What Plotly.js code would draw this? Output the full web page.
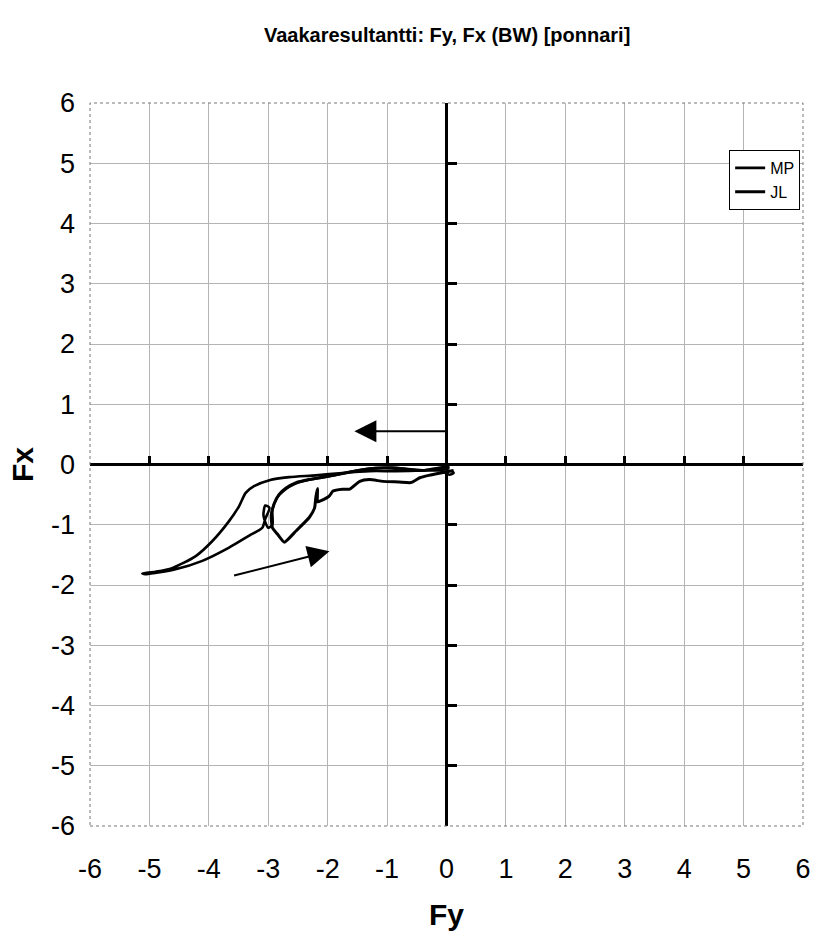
<!DOCTYPE html>
<html>
<head>
<meta charset="utf-8">
<script src="https://cdn.plot.ly/plotly-3.0.1.min.js"></script>
<style>html,body{margin:0;padding:0;background:#fff;}#chart{width:813px;height:940px;}</style>
</head>
<body>
<div id="chart"></div>
<script>
// Series MP (Fy, Fx)
const mpFy = [0.08, 0.12, 0.05, -0.1, -0.4, -0.85, -1.3, -1.75, -2.2, -2.65, -2.98, -3.24, -3.38, -3.49, -3.66, -3.94, -4.22, -4.62, -4.9, -5.12, -5.05, -4.56, -4.11, -3.66, -3.32, -3.1, -3.05, -2.98, -3.05, -3.08, -3.0, -2.93, -2.93, -2.85, -2.72, -2.55, -2.3, -2.0, -1.75, -1.5, -1.2, -0.9, -0.6, -0.3, -0.1, 0.05];
const mpFx = [-0.1, -0.14, -0.17, -0.1, -0.1, -0.11, -0.11, -0.14, -0.18, -0.21, -0.26, -0.36, -0.47, -0.69, -0.94, -1.27, -1.52, -1.72, -1.78, -1.81, -1.82, -1.74, -1.6, -1.38, -1.18, -1.05, -0.9, -0.72, -0.68, -0.85, -1.05, -1.0, -0.75, -0.55, -0.42, -0.32, -0.25, -0.2, -0.15, -0.1, -0.06, -0.05, -0.08, -0.1, -0.09, -0.06];
// Series JL (Fy, Fx)
const jlFy = [0.12, -0.1, -0.3, -0.45, -0.6, -0.8, -1.07, -1.3, -1.46, -1.63, -1.75, -1.91, -1.97, -2.11, -2.17, -2.17, -2.2, -2.22, -2.31, -2.53, -2.73, -2.85, -2.93, -2.95, -2.9, -2.82, -2.7, -2.53, -2.31, -2.08, -1.86, -1.6, -1.3, -1.0, -0.7, -0.4, -0.15, 0.05];
const jlFx = [-0.1, -0.14, -0.18, -0.22, -0.3, -0.29, -0.28, -0.25, -0.28, -0.41, -0.41, -0.44, -0.52, -0.6, -0.62, -0.4, -0.55, -0.72, -0.88, -1.1, -1.29, -1.15, -1.05, -0.85, -0.65, -0.5, -0.39, -0.3, -0.25, -0.21, -0.17, -0.12, -0.07, -0.06, -0.08, -0.1, -0.06, -0.03];
const tickVals = [-6, -5, -4, -3, -2, -1, 0, 1, 2, 3, 4, 5, 6];
const tickText = ['-6', '-5', '-4', '-3', '-2', '-1', '0', '1', '2', '3', '4', '5', '6'];

const FONT = 'Liberation Sans, Arial, sans-serif';

const traces = [
  {x: mpFy, y: mpFx, name: 'MP', mode: 'lines', line: {color: '#000', width: 2.6, shape: 'spline', smoothing: 0.7}},
  {x: jlFy, y: jlFx, name: 'JL', mode: 'lines', line: {color: '#000', width: 3, shape: 'spline', smoothing: 0.5}},
  {x: [0], y: [0], xaxis: 'x2', yaxis: 'y2', mode: 'markers', marker: {opacity: 0}, showlegend: false, hoverinfo: 'skip'}
];

const axisCommon = {
  range: [-6, 6], tickvals: tickVals, ticktext: tickText,
  showgrid: true, gridcolor: '#b4b4b4', gridwidth: 1,
  zeroline: true, zerolinecolor: '#000', zerolinewidth: 3,
  showline: false, ticks: '',
  tickfont: {family: FONT, size: 27, color: '#000'}
};

const layout = {
  width: 813, height: 940,
  margin: {l: 90, r: 10, t: 103, b: 114},
  paper_bgcolor: '#fff', plot_bgcolor: '#fff',
  font: {family: FONT, color: '#000'},
  title: {text: 'Vaakaresultantti: Fy, Fx (BW) [ponnari]', font: {family: FONT, size: 20, color: '#000', weight: 'bold'}, x: 0.55, xanchor: 'center', y: 0.963, yanchor: 'middle'},
  xaxis: Object.assign({}, axisCommon, {
    title: {text: '<b>Fy</b>', font: {family: FONT, size: 30, color: '#000'}, standoff: 20},
    ticklabelstandoff: 24
  }),
  yaxis: Object.assign({}, axisCommon, {
    title: {text: '<b>Fx</b>', font: {family: FONT, size: 30, color: '#000'}, standoff: 8},
    ticklabelstandoff: 14
  }),
  xaxis2: {overlaying: 'x', anchor: 'free', position: 0.5, range: [-6, 6], tickvals: tickVals,
    showticklabels: false, showgrid: false, zeroline: false, showline: false,
    ticks: 'inside', ticklen: 9, tickwidth: 3, tickcolor: '#000'},
  yaxis2: {overlaying: 'y', anchor: 'free', position: 0.5, range: [-6, 6], tickvals: tickVals,
    showticklabels: false, showgrid: false, zeroline: false, showline: false,
    ticks: 'inside', ticklen: 9, tickwidth: 3, tickcolor: '#000'},
  showlegend: true,
  legend: {x: 0.996, xanchor: 'right', y: 0.935, yanchor: 'top', bgcolor: '#fff',
    bordercolor: '#000', borderwidth: 1, font: {family: FONT, size: 16, color: '#000'},
    tracegroupgap: 2, itemwidth: 30},
  shapes: [
    {type: 'rect', xref: 'paper', yref: 'paper', x0: 0, x1: 1, y0: 0, y1: 1,
     line: {color: '#777', width: 1, dash: 'dot'}, layer: 'above'}
  ],
  annotations: [
    {x: -1.55, y: 0.55, ax: 0.03, ay: 0.55, xref: 'x', yref: 'y', axref: 'x', ayref: 'y',
     showarrow: true, arrowhead: 2, arrowsize: 2.2, arrowwidth: 2, arrowcolor: '#000', text: ''},
    {x: -1.97, y: -1.44, ax: -3.6, ay: -1.85, xref: 'x', yref: 'y', axref: 'x', ayref: 'y',
     showarrow: true, arrowhead: 2, arrowsize: 2.2, arrowwidth: 2, arrowcolor: '#000', text: ''}
  ]
};

Plotly.newPlot('chart', traces, layout, {displayModeBar: false, staticPlot: true});
</script>
</body>
</html>
